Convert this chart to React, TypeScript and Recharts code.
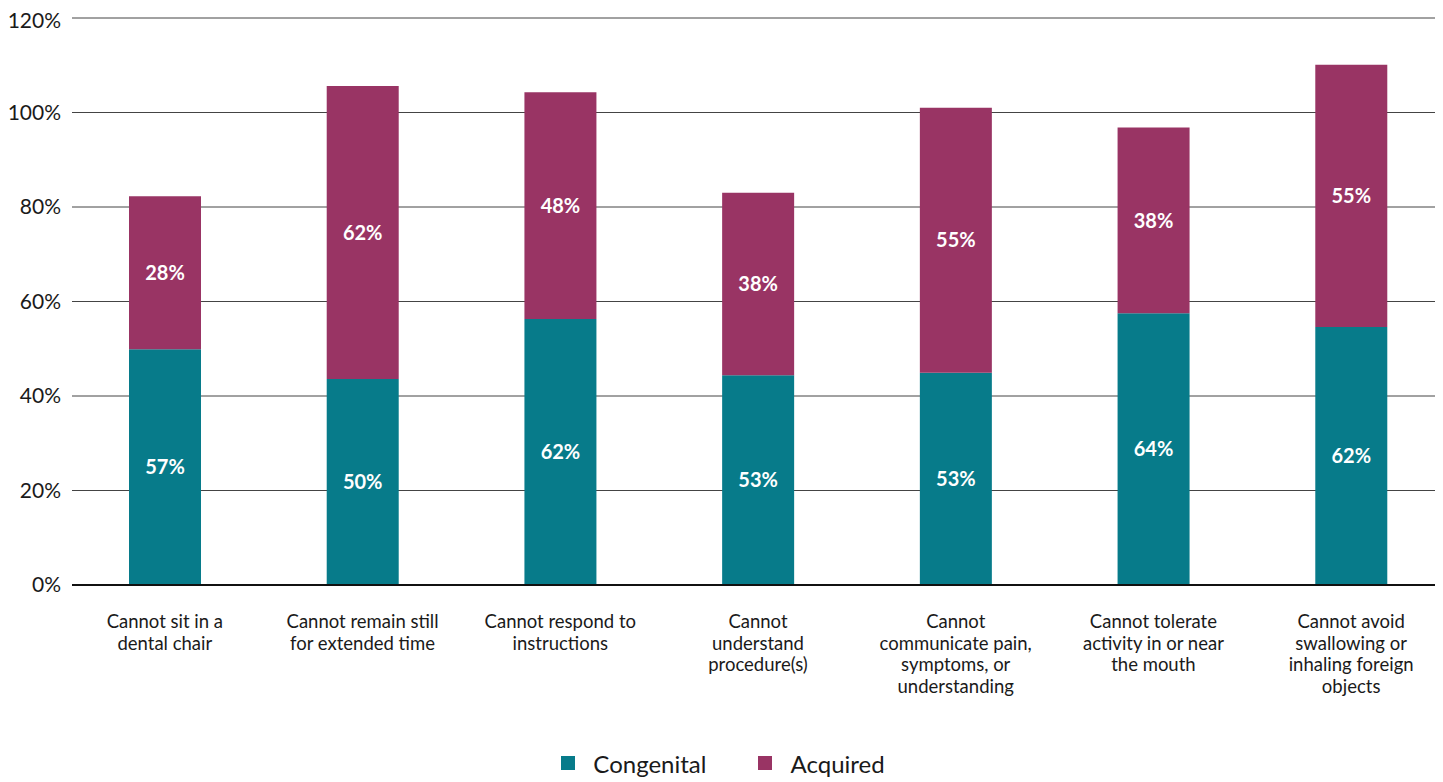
import { BarChart, Bar, XAxis, YAxis, CartesianGrid, Legend, LabelList } from "recharts";

const categories = [
  "Cannot sit in a\ndental chair",
  "Cannot remain still\nfor extended time",
  "Cannot respond to\ninstructions",
  "Cannot\nunderstand\nprocedure(s)",
  "Cannot\ncommunicate pain,\nsymptoms, or\nunderstanding",
  "Cannot tolerate\nactivity in or near\nthe mouth",
  "Cannot avoid\nswallowing or\ninhaling foreign\nobjects",
];

// bar heights as drawn in the picture (% of axis)
const congenital = [49.9, 43.6, 56.3, 44.4, 44.9, 57.5, 54.6];
const acquired = [32.4, 62.0, 48.0, 38.6, 56.1, 39.3, 55.5];

// the printed labels
const congenitalLabels = [57, 50, 62, 53, 53, 64, 62];
const acquiredLabels = [28, 62, 48, 38, 55, 38, 55];

const yTicks = [0, 20, 40, 60, 80, 100, 120];

const data = categories.map((name, i) => ({
  name,
  congenital: congenital[i],
  acquired: acquired[i],
  congenitalLabel: congenitalLabels[i],
  acquiredLabel: acquiredLabels[i],
}));

const FONT = "Lato, 'Open Sans', sans-serif";
const TEAL = "#077B8A";
const PLUM = "#993464";

function CategoryTick(props: any) {
  const { x, y, payload } = props;
  const lines = String(payload.value).split("\n");
  return (
    <text x={x} y={y} textAnchor="middle" fill="#1a1a1a" fontSize={18.5} fontFamily={FONT}>
      {lines.map((l, i) => (
        <tspan key={i} x={x} dy={i === 0 ? 35 : 21.5}>
          {l}
        </tspan>
      ))}
    </text>
  );
}

function LegendBox() {
  const items = [
    { label: "Congenital", color: TEAL },
    { label: "Acquired", color: PLUM },
  ];
  return (
    <div
      style={{
        display: "flex",
        justifyContent: "center",
        alignItems: "center",
        gap: 52,
        height: 40,
        paddingTop: 2,
        boxSizing: "border-box",
        fontFamily: FONT,
        fontSize: 24,
        color: "#1a1a1a",
      }}
    >
      {items.map((it) => (
        <div key={it.label} style={{ display: "flex", alignItems: "center" }}>
          <span style={{ width: 14, height: 14, background: it.color, marginRight: 18, display: "inline-block" }} />
          <span>{it.label}</span>
        </div>
      ))}
    </div>
  );
}

export default function App() {
  return (
    <BarChart
      width={1435}
      height={774}
      data={data}
      margin={{ top: 10, right: 5, bottom: 0, left: 0 }}
      barCategoryGap={0}
    >
      <CartesianGrid vertical={false} stroke="#444" />
      <XAxis
        dataKey="name"
        interval={0}
        height={157}
        tick={<CategoryTick />}
        tickLine={false}
        axisLine={{ stroke: "#111", strokeWidth: 2 }}
        padding={{ left: -6, right: -12 }}
      />
      <YAxis
        width={64}
        domain={[0, 120]}
        ticks={yTicks}
        tickFormatter={(v: number) => `${v}%`}
        tick={{ fontSize: 21, fill: "#1a1a1a", fontFamily: FONT }}
        tickLine={false}
        axisLine={false}
        tickMargin={5}
      />
      <Legend verticalAlign="bottom" height={40} content={() => <LegendBox />} />
      <Bar dataKey="congenital" stackId="a" fill={TEAL} barSize={72} isAnimationActive={false}>
        <LabelList
          dataKey="congenitalLabel"
          position="center"
          formatter={(v: any) => `${v}%`}
          fill="#fff"
          fontSize={20}
          fontWeight={700}
          fontFamily={FONT}
        />
      </Bar>
      <Bar dataKey="acquired" stackId="a" fill={PLUM} barSize={72} isAnimationActive={false}>
        <LabelList
          dataKey="acquiredLabel"
          position="center"
          formatter={(v: any) => `${v}%`}
          fill="#fff"
          fontSize={20}
          fontWeight={700}
          fontFamily={FONT}
        />
      </Bar>
    </BarChart>
  );
}
